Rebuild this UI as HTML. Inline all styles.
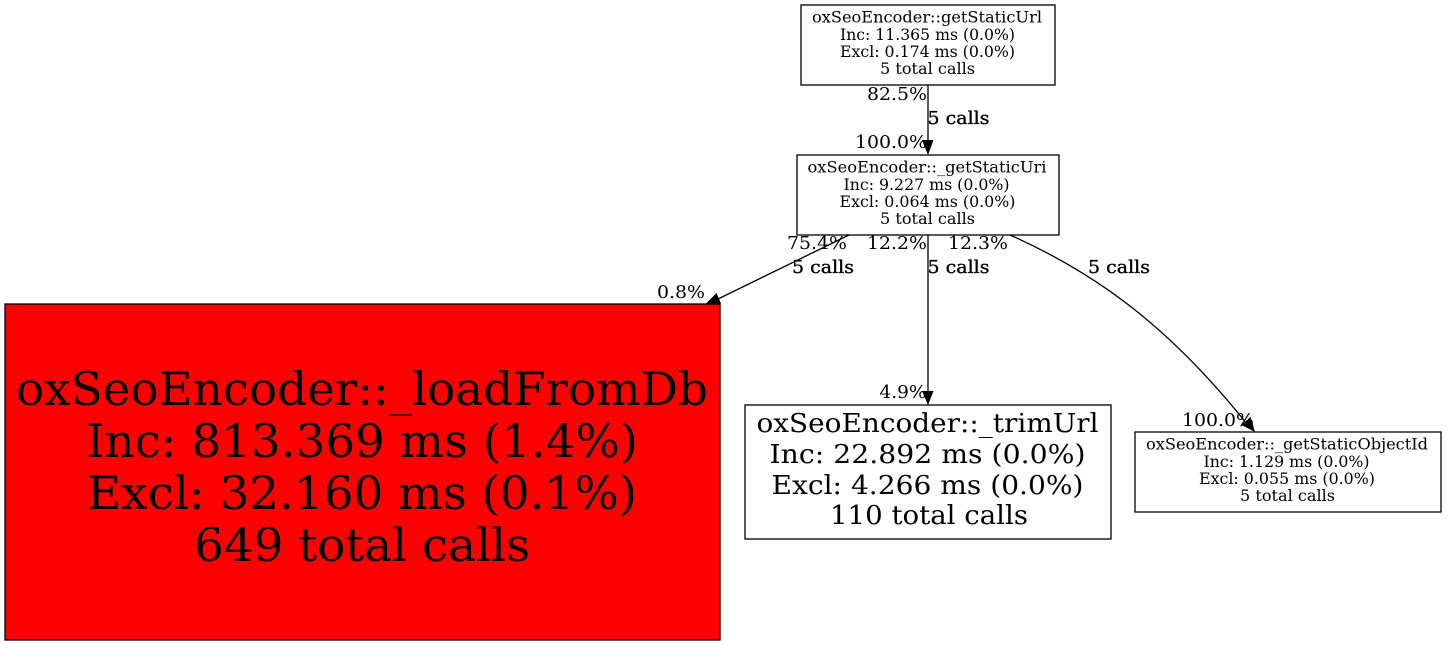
<!DOCTYPE html>
<html><head><meta charset="utf-8"><style>
html,body{margin:0;padding:0;background:#fff;width:1447px;height:645px;overflow:hidden}
svg{display:block}
text{font-family:"DejaVu Serif","Liberation Serif",serif;fill:#000;text-anchor:middle}
.s{font-size:15.5px}.e{font-size:18px}.m{font-size:26.5px}.b{font-size:46px}
.c{stroke:#000;stroke-width:.35}
rect{stroke:#000;stroke-width:1.3}
path.l{fill:none;stroke:#000;stroke-width:1.3}
</style></head><body>
<svg width="1447" height="645" viewBox="0 0 1447 645" xmlns="http://www.w3.org/2000/svg">
<rect x="801" y="5" width="254" height="80" fill="#fff"/>
<text class="s" x="927" y="22.500" textLength="230" lengthAdjust="spacingAndGlyphs">oxSeoEncoder::getStaticUrl</text>
<text class="s" x="927.500" y="40" textLength="175" lengthAdjust="spacingAndGlyphs">Inc: 11.365 ms (0.0%)</text>
<text class="s" x="927.500" y="57" textLength="175" lengthAdjust="spacingAndGlyphs">Excl: 0.174 ms (0.0%)</text>
<text class="s" x="927.500" y="74" textLength="95" lengthAdjust="spacingAndGlyphs">5 total calls</text>

<rect x="797" y="155" width="262" height="80" fill="#fff"/>
<text class="s" x="927" y="172.500" textLength="239" lengthAdjust="spacingAndGlyphs">oxSeoEncoder::_getStaticUri</text>
<text class="s" x="926.500" y="190" textLength="166" lengthAdjust="spacingAndGlyphs">Inc: 9.227 ms (0.0%)</text>
<text class="s" x="927.500" y="207" textLength="176" lengthAdjust="spacingAndGlyphs">Excl: 0.064 ms (0.0%)</text>
<text class="s" x="927.500" y="224" textLength="95" lengthAdjust="spacingAndGlyphs">5 total calls</text>

<rect x="5" y="304" width="715" height="336" fill="#f00"/>
<text class="b" x="362" y="405" textLength="692" lengthAdjust="spacingAndGlyphs">oxSeoEncoder::_loadFromDb</text>
<text class="b" x="362" y="457" textLength="552" lengthAdjust="spacingAndGlyphs">Inc: 813.369 ms (1.4%)</text>
<text class="b" x="362" y="509" textLength="550" lengthAdjust="spacingAndGlyphs">Excl: 32.160 ms (0.1%)</text>
<text class="b" x="362" y="561" textLength="336" lengthAdjust="spacingAndGlyphs">649 total calls</text>

<rect x="745" y="405" width="366" height="134" fill="#fff"/>
<text class="m" x="927.500" y="432" textLength="342" lengthAdjust="spacingAndGlyphs">oxSeoEncoder::_trimUrl</text>
<text class="m" x="927.500" y="463" textLength="316" lengthAdjust="spacingAndGlyphs">Inc: 22.892 ms (0.0%)</text>
<text class="m" x="927.500" y="494" textLength="312" lengthAdjust="spacingAndGlyphs">Excl: 4.266 ms (0.0%)</text>
<text class="m" x="929" y="524" textLength="198" lengthAdjust="spacingAndGlyphs">110 total calls</text>

<rect x="1135" y="432" width="306" height="80" fill="#fff"/>
<text class="s" x="1287" y="449.500" textLength="282" lengthAdjust="spacingAndGlyphs">oxSeoEncoder::_getStaticObjectId</text>
<text class="s" x="1286.500" y="467" textLength="166" lengthAdjust="spacingAndGlyphs">Inc: 1.129 ms (0.0%)</text>
<text class="s" x="1287" y="484" textLength="176" lengthAdjust="spacingAndGlyphs">Excl: 0.055 ms (0.0%)</text>
<text class="s" x="1287.500" y="501" textLength="95" lengthAdjust="spacingAndGlyphs">5 total calls</text>

<path class="l" d="M928 85V142"/>
<path d="M922 140L928 155L933.500 140Z"/>
<path class="l" d="M849 235L716 300"/>
<path d="M705.500 304L716.500 293L721 303.500Z"/>
<path class="l" d="M928 235V392"/>
<path d="M922 391L928 405L933.500 391Z"/>
<path class="l" d="M1010 235C1100 275 1172 330 1247 424"/>
<path d="M1255 432L1250.500 417L1241.500 425Z"/>

<text class="e" x="897" y="100" textLength="60" lengthAdjust="spacingAndGlyphs">82.5%</text>
<text class="e c" x="958.500" y="124" textLength="62" lengthAdjust="spacingAndGlyphs">5 calls</text>
<text class="e" x="891" y="148" textLength="72" lengthAdjust="spacingAndGlyphs">100.0%</text>
<text class="e" x="817" y="249" textLength="60" lengthAdjust="spacingAndGlyphs">75.4%</text>
<text class="e c" x="823" y="273" textLength="62" lengthAdjust="spacingAndGlyphs">5 calls</text>
<text class="e" x="897" y="249" textLength="60" lengthAdjust="spacingAndGlyphs">12.2%</text>
<text class="e c" x="958.500" y="273" textLength="62" lengthAdjust="spacingAndGlyphs">5 calls</text>
<text class="e" x="978" y="249" textLength="60" lengthAdjust="spacingAndGlyphs">12.3%</text>
<text class="e c" x="1119" y="273" textLength="62" lengthAdjust="spacingAndGlyphs">5 calls</text>
<text class="e" x="681" y="298" textLength="48" lengthAdjust="spacingAndGlyphs">0.8%</text>
<text class="e" x="903" y="398" textLength="47" lengthAdjust="spacingAndGlyphs">4.9%</text>
<text class="e" x="1218" y="426" textLength="72" lengthAdjust="spacingAndGlyphs">100.0%</text>
</svg>
</body></html>
